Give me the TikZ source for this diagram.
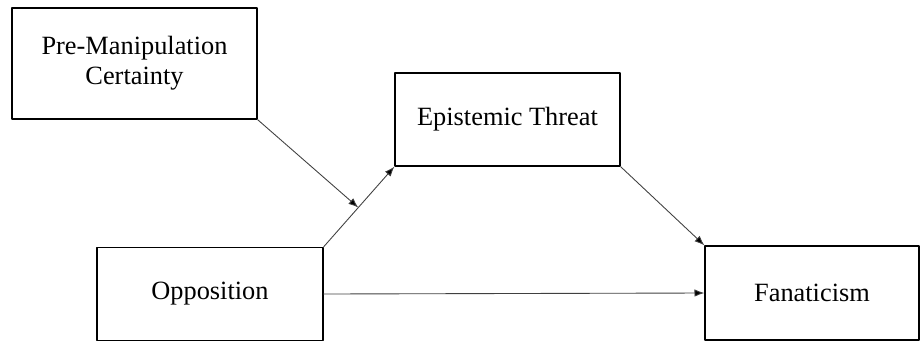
\documentclass[tikz,border=0pt]{standalone}
\usepackage{fontspec}
\setmainfont{Liberation Serif}
\usetikzlibrary{arrows.meta}

\tikzset{
	varbox/.style={draw,line width=0.6pt,rectangle,align=center,inner sep=0pt,font=\fontsize{12}{13.6}\selectfont},
	pathline/.style={line width=0.4pt,draw=black!75,-{Latex[length=4.5pt,width=3.4pt,fill=black]}}
}

\begin{document}
\begin{tikzpicture}[line cap=round,line join=round,x=0.016cm,y=-0.016cm]
			\useasboundingbox (0,0) rectangle (920,341);
			\node [varbox,minimum width=3.92cm,minimum height=1.776cm] (pre) at (134.5,63.5) {Pre-Manipulation\\Certainty};
			\node [varbox,minimum width=3.6cm,minimum height=1.488cm] (threat) at (507.5,119.5) {Epistemic Threat};
			\node [varbox,minimum width=3.616cm,minimum height=1.488cm] (opp) at (210,294) {Opposition};
			\node [varbox,minimum width=3.424cm,minimum height=1.504cm] (fan) at (812,293) {Fanaticism};
			\draw [pathline] (opp.north east) -- coordinate[pos=0.49] (mod) (threat.south west);
			\draw [pathline] (pre.south east) -- (mod);
			\draw [pathline] (threat.south east) -- (fan.north west);
			\draw [pathline] (opp.east) -- (fan.west);
		\end{tikzpicture}
\end{document}
